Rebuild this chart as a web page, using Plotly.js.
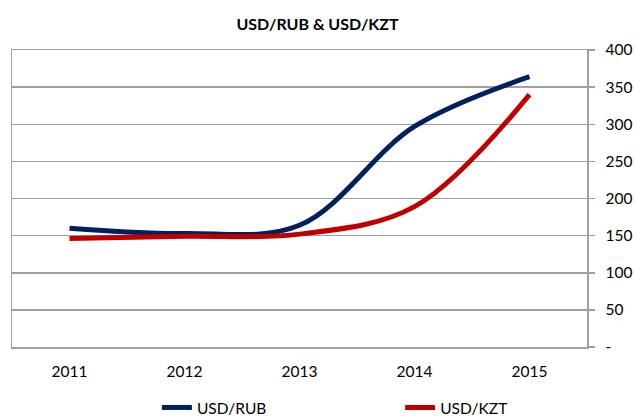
<!DOCTYPE html>
<html>
<head>
<meta charset="utf-8">
<script src="https://cdn.plot.ly/plotly-3.0.1.min.js"></script>
<style>html,body{margin:0;padding:0;background:#fff;}#chart{width:635px;height:420px;}</style>
</head>
<body>
<div id="chart"></div>
<script>
const years = ['2011', '2012', '2013', '2014', '2015'];
const usdRub = [160, 153, 164, 297, 364];
const usdKzt = [146, 149, 152, 189, 340];
const yTickVals = [0, 50, 100, 150, 200, 250, 300, 350, 400];
const yTickText = ['-', '50', '100', '150', '200', '250', '300', '350', '400'];

const font = 'Lato, "Liberation Sans", sans-serif';
const traces = [
  {x: years, y: usdRub, name: 'USD/RUB', type: 'scatter', mode: 'lines', legend: 'legend',
   line: {color: '#002060', width: 5, shape: 'spline', smoothing: 1}},
  {x: years, y: usdKzt, name: 'USD/KZT', type: 'scatter', mode: 'lines', legend: 'legend2',
   line: {color: '#C00000', width: 5, shape: 'spline', smoothing: 1}}
];
const legendBase = {orientation: 'h', xanchor: 'left', y: -0.205, yanchor: 'middle',
                    font: {family: font, size: 15.5, color: '#000'}, bgcolor: 'rgba(0,0,0,0)'};
const layout = {
  width: 635, height: 420,
  margin: {l: 12, r: 48, t: 50, b: 73, autoexpand: false},
  paper_bgcolor: '#fff', plot_bgcolor: '#fff',
  font: {family: font, size: 15.5, color: '#000'},
  title: {text: '<b>USD/RUB & USD/KZT</b>', font: {family: font, size: 16, color: '#000'},
          x: 0.5, xanchor: 'center', y: 0.943, yanchor: 'middle'},
  xaxis: {type: 'category', range: [-0.5, 4.5], showgrid: false, zeroline: false,
          showline: true, mirror: true, linecolor: '#a0a0a0', linewidth: 1.5,
          ticks: '', tickfont: {family: font, size: 15.5}, ticklabelstandoff: 10},
  yaxis: {side: 'right', range: [0, 400], tickvals: yTickVals, ticktext: yTickText,
          showgrid: true, gridcolor: '#a0a0a0', gridwidth: 1.5, zeroline: false,
          showline: true, mirror: true, linecolor: '#a0a0a0', linewidth: 1.5,
          ticks: 'outside', ticklen: 6, tickcolor: '#a0a0a0', tickwidth: 1.5,
          ticklabelstandoff: 8, tickfont: {family: font, size: 15.5}},
  showlegend: true,
  legend: Object.assign({}, legendBase, {x: 0.252}),
  legend2: Object.assign({}, legendBase, {x: 0.675})
};
Plotly.newPlot('chart', traces, layout, {displayModeBar: false, staticPlot: true});
</script>
</body>
</html>
